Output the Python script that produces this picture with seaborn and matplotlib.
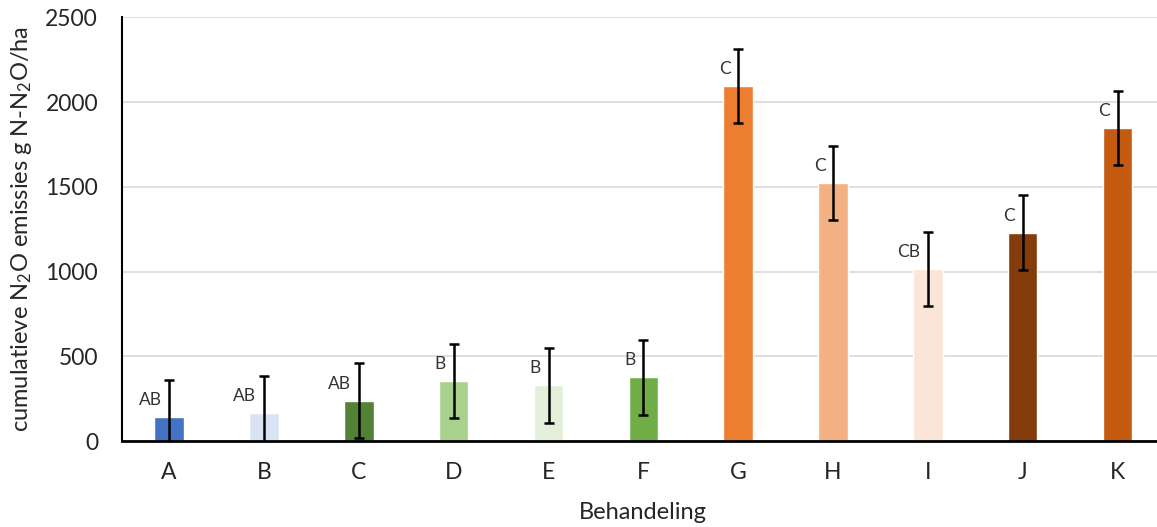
import numpy as np
import pandas as pd
import matplotlib
matplotlib.use("Agg")
import matplotlib.pyplot as plt
import seaborn as sns

# data
treatments = ["A", "B", "C", "D", "E", "F", "G", "H", "I", "J", "K"]
emissions = [143, 167, 238, 353, 329, 376, 2093, 1524, 1016, 1229, 1846]
errors = [218, 218, 220, 218, 220, 220, 218, 219, 220, 220, 220]
letters = ["AB", "AB", "AB", "B", "B", "B", "C", "C", "CB", "C", "C"]
colors = ["#4472C4", "#DAE3F3", "#548235", "#A9D18E", "#E2F0D9", "#70AD47",
          "#ED7D31", "#F4B183", "#FBE5D6", "#843C0C", "#C55A11"]

df = pd.DataFrame({"Behandeling": treatments, "emissie": emissions})

sns.set_style("white")
plt.rcParams["font.family"] = ["Lato", "DejaVu Sans"]
plt.rcParams["mathtext.default"] = "regular"

W, H = 1157, 527
fig = plt.figure(figsize=(W / 100, H / 100), dpi=100)
ax = fig.add_axes([121.7 / W, (H - 441) / H, (1165 - 121.7) / W, (441 - 17.3) / H])

sns.barplot(data=df, x="Behandeling", y="emissie", hue="Behandeling",
            palette=dict(zip(treatments, colors)), width=0.31, saturation=1,
            legend=False, ax=ax, zorder=2)

pos = np.arange(len(treatments))
ax.errorbar(pos, emissions, yerr=errors, fmt="none", ecolor="black",
            elinewidth=1.8, capsize=3.3, capthick=1.8, zorder=3)

for x, v, lab in zip(pos, emissions, letters):
    ax.text(x - 0.08, v + 100, lab, ha="right", va="center", fontsize=12.5,
            color="#333333")

ax.set_xlim(-0.5, 10.5)
ax.set_ylim(0, 2500)
ax.set_yticks([0, 500, 1000, 1500, 2000, 2500])
ax.yaxis.grid(True, color="#d9d9d9", linewidth=1.2, zorder=0)
ax.set_axisbelow(True)

for s in ["top", "right"]:
    ax.spines[s].set_visible(False)
ax.spines["left"].set_color("black")
ax.spines["left"].set_linewidth(1.5)
ax.spines["bottom"].set_color("black")
ax.spines["bottom"].set_linewidth(2)

ax.tick_params(axis="y", length=0, pad=17, labelsize=16.5)
ax.tick_params(axis="x", length=0, pad=15, labelsize=16.5)
ax.set_xlabel("Behandeling", fontsize=17, labelpad=14)
ax.set_ylabel("cumulatieve N$_2$O emissies g N-N$_2$O/ha", fontsize=17, labelpad=8)

fig.savefig("out.png", dpi=100)
